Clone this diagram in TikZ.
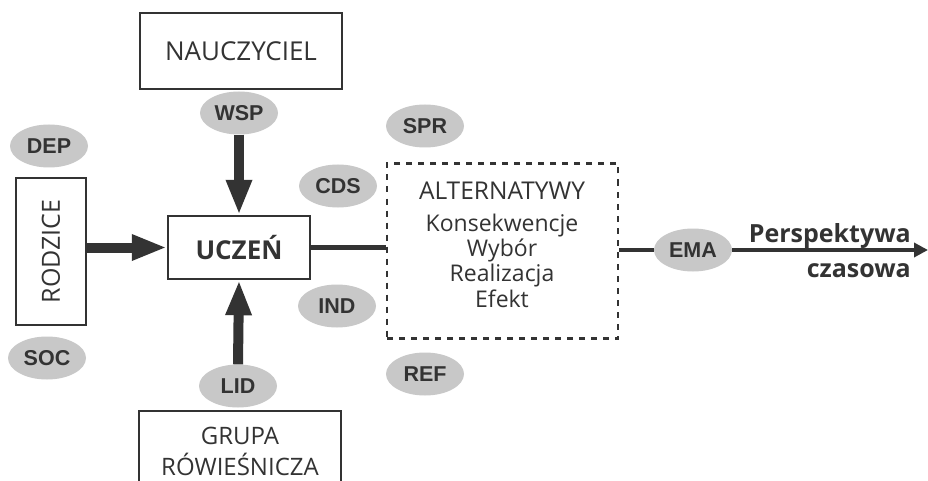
\documentclass[tikz,border=0pt]{standalone}
\usepackage{fontspec}
\setmainfont{Open Sans}
\newfontfamily\lblfont{Liberation Sans}
\usetikzlibrary{arrows.meta,shapes.geometric}
\definecolor{ink}{HTML}{333333}
\definecolor{oval}{HTML}{C8C8C8}
\tikzset{
  box/.style={draw=ink, line width=2.4pt, rectangle, inner sep=0pt, text=ink},
  dbox/.style={draw=ink, line width=2.8pt, dash pattern=on 6pt off 6pt, rectangle, inner sep=0pt},
  oval/.style={ellipse, fill=oval, minimum width=78pt, minimum height=43pt, inner sep=0pt,
     font=\lblfont\bfseries\fontsize{21.5}{21.5}\selectfont, text=ink},
  bigarrow/.style={draw=ink, line width=10pt, -{Triangle[length=35pt,width=24pt]}, shorten >=0pt},
  conn/.style={draw=ink, line width=4.5pt},
  txt/.style={text=ink, inner sep=0pt},
}
\begin{document}
\begin{tikzpicture}[x=1pt,y=-1pt]
\useasboundingbox (0,0) rectangle (928,481);
\clip (0,0) rectangle (928,481);
\fill[white] (0,0) rectangle (928,481);
% boxes
\node[box, minimum width=202pt, minimum height=76pt, font=\fontsize{26}{26}\selectfont] (nau) at (241,51) {NAUCZYCIEL};
\node[box, minimum width=142pt, minimum height=63pt, font=\bfseries\fontsize{26}{26}\selectfont] (ucz) at (239,247.5) {UCZEŃ};
\node[box, minimum width=70pt, minimum height=147pt] (rodz) at (51,251.5) {};
\node[txt, rotate=90, font=\fontsize{25}{25}\selectfont] (rodzt) at (rodz.center) {RODZICE};
\node[box, minimum width=202pt, minimum height=90pt] (grp) at (240,456) {};
\node[txt, font=\fontsize{24}{24}\selectfont] (grp1) at (240,436) {GRUPA};
\node[txt, font=\fontsize{24}{24}\selectfont] (grp2) at (240,464) {RÓWIEŚNICZA};
\node[dbox, minimum width=231pt, minimum height=175pt] (alt) at (502.5,251) {};
\node[txt, font=\fontsize{24.5}{24.5}\selectfont] (a0) at (502,191) {ALTERNATYWY};
\node[txt, anchor=base, font=\fontsize{23}{23}\selectfont] (a1) at (502,231) {Konsekwencje};
\node[txt, anchor=base, font=\fontsize{23}{23}\selectfont] (a2) at (502,256) {Wybór};
\node[txt, anchor=base, font=\fontsize{23}{23}\selectfont] (a3) at (502,281) {Realizacja};
\node[txt, anchor=base, font=\fontsize{23}{23}\selectfont] (a4) at (502,307) {Efekt};
% ovals
\node[oval] (wsp) at (239,113) {WSP};
\node[oval] (dep) at (49,146) {DEP};
\node[oval] (soc) at (47,358) {SOC};
\node[oval] (lid) at (238,386) {LID};
\node[oval] (ind) at (337,306) {IND};
\node[oval] (ref) at (425,374) {REF};
\node[oval] (cds) at (338,186) {CDS};
\node[oval] (spr) at (425,126) {SPR};
\node[oval] (ema) at (693,250) {EMA};
% arrows
\draw[bigarrow] (wsp.south) -- (ucz.north);
\draw[bigarrow] (lid.north) -- (ucz.south);
\draw[bigarrow] (rodz.east |- ucz.west) -- (ucz.west);
\draw[conn] (ucz.east) -- (alt.west |- ucz.east);
\draw[conn] (alt.east |- ema.west) -- (ema.west);
\coordinate (endp) at (928,250);
\draw[conn, -{Triangle[length=14pt,width=14pt]}] (ema.east) -- (endp);
\node[txt, anchor=base east, font=\bfseries\fontsize{25}{25}\selectfont] (per1) at (911,242) {Perspektywa};
\node[txt, anchor=base east, font=\bfseries\fontsize{25}{25}\selectfont] (per2) at (911,277) {czasowa};
\end{tikzpicture}
\end{document}
